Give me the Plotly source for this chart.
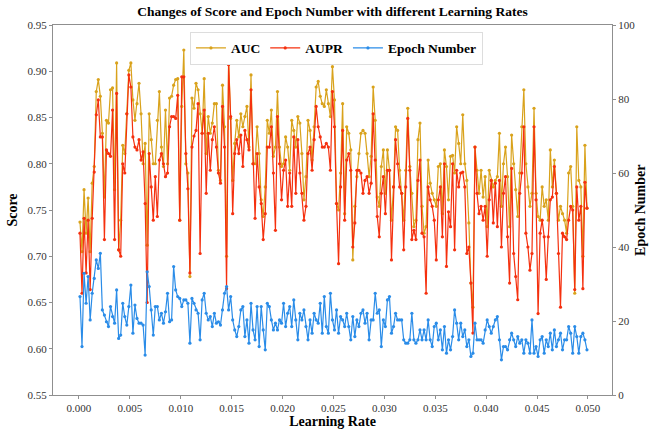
import numpy as np
import plotly.graph_objects as go

# ---- data ----
auc = [
    0.737, 0.705, 0.772, 0.725, 0.763, 0.705, 0.779, 0.797, 0.878, 0.891,
    0.873, 0.833, 0.764, 0.847, 0.844, 0.880, 0.882, 0.772, 0.909, 0.707,
    0.739, 0.820, 0.811, 0.854, 0.901, 0.909, 0.869, 0.847, 0.865, 0.887,
    0.854, 0.800, 0.822, 0.712, 0.854, 0.826, 0.800, 0.800, 0.847, 0.878,
    0.818, 0.797, 0.858, 0.800, 0.871, 0.873, 0.885, 0.891, 0.892, 0.739,
    0.862, 0.923, 0.800, 0.790, 0.678, 0.871, 0.860, 0.887, 0.880,
    # seg 2
    0.854, 0.833, 0.892, 0.811, 0.851, 0.833, 0.844, 0.865, 0.865, 0.793,
    0.782, 0.885, 0.840, 0.700, 0.914, 0.849, 0.782, 0.822, 0.847, 0.829,
    0.854, 0.840, 0.851, 0.862, 0.818, 0.896, 0.800, 0.800, 0.840, 0.811,
    0.761, 0.743, 0.775, 0.847, 0.833, 0.858, 0.808, 0.818, 0.878, 0.818,
    0.797, 0.800, 0.829, 0.818, 0.793, 0.847, 0.836, 0.818, 0.851, 0.844,
    0.811, 0.761, 0.786, 0.847, 0.836, 0.804, 0.840, 0.883, 0.889,
    # seg 3
    0.873, 0.865, 0.862, 0.880, 0.865, 0.851, 0.905, 0.869, 0.757, 0.750,
    0.790, 0.865, 0.746, 0.840, 0.833, 0.815, 0.696, 0.754, 0.786, 0.811,
    0.833, 0.836, 0.833, 0.811, 0.786, 0.808, 0.883, 0.847, 0.764, 0.754,
    0.797, 0.815, 0.768, 0.815, 0.793, 0.739, 0.775, 0.840, 0.836, 0.793,
    0.768, 0.739, 0.793, 0.860, 0.797, 0.768, 0.732, 0.739, 0.826, 0.844,
    0.754, 0.725, 0.732, 0.804, 0.779, 0.768, 0.761, 0.754, 0.797,
    # seg 4
    0.800, 0.746, 0.815, 0.797, 0.761, 0.808, 0.809, 0.790, 0.840, 0.822,
    0.800, 0.853, 0.800, 0.782, 0.736, 0.671, 0.645, 0.818, 0.793, 0.768,
    0.793, 0.764, 0.786, 0.732, 0.793, 0.782, 0.775, 0.782, 0.786, 0.833,
    0.754, 0.800, 0.818, 0.786, 0.732, 0.831, 0.800, 0.772, 0.743, 0.790,
    0.840, 0.880, 0.800, 0.775, 0.754, 0.768, 0.860, 0.768, 0.743, 0.739,
    0.775, 0.754, 0.761, 0.739, 0.815, 0.775, 0.804, 0.768, 0.739, 0.754,
    0.746, 0.739, 0.725, 0.790, 0.797, 0.754, 0.660, 0.840, 0.782, 0.775,
    0.700, 0.820, 0.752,
]

aupr = [
    0.725, 0.660, 0.741, 0.682, 0.739, 0.664, 0.741, 0.791, 0.853, 0.869,
    0.829, 0.829, 0.718, 0.815, 0.811, 0.808, 0.858, 0.718, 0.876, 0.707,
    0.700, 0.800, 0.790, 0.854, 0.896, 0.883, 0.829, 0.818, 0.815, 0.826,
    0.804, 0.813, 0.757, 0.650, 0.811, 0.775, 0.739, 0.786, 0.743, 0.804,
    0.811, 0.800, 0.786, 0.790, 0.840, 0.851, 0.851, 0.849, 0.874, 0.739,
    0.894, 0.894, 0.811, 0.773, 0.682, 0.818, 0.830, 0.836, 0.865,
    # seg 2
    0.703, 0.833, 0.858, 0.768, 0.833, 0.793, 0.826, 0.840, 0.818, 0.790,
    0.779, 0.862, 0.818, 0.665, 0.907, 0.851, 0.746, 0.811, 0.826, 0.811,
    0.831, 0.797, 0.836, 0.826, 0.815, 0.880, 0.800, 0.741, 0.811, 0.775,
    0.757, 0.718, 0.746, 0.818, 0.818, 0.840, 0.790, 0.728, 0.851, 0.800,
    0.761, 0.793, 0.804, 0.754, 0.790, 0.754, 0.829, 0.768, 0.826, 0.790,
    0.768, 0.739, 0.754, 0.811, 0.818, 0.793, 0.826, 0.862, 0.840,
    # seg 3
    0.829, 0.818, 0.818, 0.822, 0.818, 0.793, 0.878, 0.840, 0.757, 0.692,
    0.775, 0.836, 0.739, 0.804, 0.811, 0.793, 0.710, 0.736, 0.793, 0.793,
    0.790, 0.768, 0.782, 0.786, 0.768, 0.779, 0.854, 0.804, 0.743, 0.721,
    0.768, 0.786, 0.746, 0.793, 0.793, 0.696, 0.775, 0.826, 0.800, 0.775,
    0.768, 0.707, 0.775, 0.849, 0.793, 0.718, 0.728, 0.718, 0.782, 0.804,
    0.725, 0.721, 0.660, 0.775, 0.761, 0.754, 0.739, 0.696, 0.761,
    # seg 4
    0.775, 0.721, 0.800, 0.689, 0.748, 0.732, 0.800, 0.707, 0.793, 0.775,
    0.790, 0.791, 0.775, 0.703, 0.710, 0.671, 0.617, 0.818, 0.768, 0.746,
    0.754, 0.739, 0.754, 0.700, 0.761, 0.782, 0.736, 0.779, 0.732, 0.782,
    0.710, 0.768, 0.786, 0.721, 0.671, 0.795, 0.703, 0.678, 0.653, 0.768,
    0.790, 0.840, 0.725, 0.710, 0.685, 0.703, 0.840, 0.761, 0.638, 0.725,
    0.739, 0.721, 0.675, 0.721, 0.761, 0.764, 0.797, 0.768, 0.703, 0.645,
    0.725, 0.721, 0.718, 0.739, 0.754, 0.750, 0.664, 0.775, 0.739, 0.754,
    0.665, 0.780, 0.752,
]

epochs = [
    26.6, 13.1, 32.9, 24.8, 32.0, 20.3, 27.5, 31.5, 36.5, 34.2,
    38.3, 23.0, 21.6, 19.8, 18.5, 23.9, 21.2, 19.4, 28.4, 15.3,
    16.2, 24.8, 21.2, 18.9, 23.9, 29.7, 16.7, 24.3, 20.7, 19.4,
    19.4, 18.9, 10.8, 33.3, 29.3, 23.0, 16.2, 23.9, 23.9, 20.3,
    22.1, 19.4, 22.5, 27.5, 19.8, 20.3, 34.7, 28.4, 26.6, 26.1,
    23.9, 25.7, 25.7, 24.8, 14.0, 26.1, 24.8, 23.0, 22.1,
    # seg 2
    14.9, 25.7, 27.5, 22.1, 20.3, 21.2, 18.5, 22.1, 19.4, 19.8,
    18.9, 23.0, 27.5, 29.3, 23.0, 26.6, 20.3, 17.6, 15.8, 18.5,
    23.0, 23.9, 15.8, 20.3, 14.0, 24.8, 17.6, 14.9, 23.9, 13.1,
    23.9, 17.6, 12.2, 24.8, 23.9, 20.3, 17.6, 19.4, 17.6, 20.3,
    19.4, 24.8, 18.5, 22.1, 23.9, 18.5, 25.7, 20.3, 14.9, 22.1,
    20.3, 23.0, 18.5, 14.9, 20.3, 16.7, 22.1, 20.3, 19.4,
    # seg 3
    24.8, 16.7, 26.6, 18.5, 16.7, 27.5, 20.3, 17.6, 23.0, 16.7,
    21.2, 20.3, 18.5, 22.1, 18.5, 14.9, 21.2, 15.8, 20.3, 18.5,
    22.1, 23.0, 19.4, 22.1, 14.9, 20.3, 20.3, 27.5, 22.1, 23.0,
    13.1, 20.3, 18.5, 25.7, 26.6, 16.7, 18.5, 22.1, 20.3, 20.3,
    20.3, 14.9, 14.0, 14.0, 14.9, 22.1, 14.9, 14.0, 14.9, 17.6,
    14.9, 17.6, 14.9, 20.3, 14.9, 13.1, 18.5, 19.4, 14.9,
    # seg 4
    17.6, 12.2, 18.5, 11.3, 14.9, 12.2, 15.8, 23.0, 19.4, 14.9,
    19.4, 15.8, 17.6, 13.1, 14.9, 10.4, 11.3, 19.4, 14.9, 14.9,
    14.9, 14.0, 17.6, 20.3, 18.5, 16.7, 18.5, 20.3, 21.2, 14.9,
    9.5, 13.1, 13.1, 12.2, 14.9, 16.7, 14.9, 13.1, 15.8, 14.0,
    14.9, 11.3, 14.9, 14.0, 11.3, 20.3, 11.3, 13.1, 10.4, 14.9,
    15.8, 11.3, 14.9, 13.1, 16.7, 12.2, 17.6, 13.1, 14.9, 16.7,
    12.2, 14.9, 14.9, 18.5, 16.7, 11.3, 18.5, 15.8, 11.3, 15.8,
    16.7, 14.9, 12.2,
]

lr_start = 0.0001
lr_step = 0.0002
learning_rate = [round(lr_start + lr_step * i, 5) for i in range(len(auc))]

x_ticks = [0.000, 0.005, 0.010, 0.015, 0.020, 0.025, 0.030, 0.035, 0.040, 0.045, 0.050]
score_ticks = [0.55, 0.60, 0.65, 0.70, 0.75, 0.80, 0.85, 0.90, 0.95]
epoch_ticks = [0, 20, 40, 60, 80, 100]

# ---- styling ----
SERIF = "Liberation Serif, Times New Roman, serif"
C_AUC = "#D9A21B"
C_AUPR = "#F5300E"
C_EPOCH = "#2A8CE8"
FRAME = "#8f8f8f"

fig = go.Figure()
fig.add_trace(go.Scatter(
    x=learning_rate, y=auc, name="<b>AUC</b>", mode="lines+markers",
    line=dict(color=C_AUC, width=1.2), marker=dict(size=3.2, color=C_AUC),
))
fig.add_trace(go.Scatter(
    x=learning_rate, y=aupr, name="<b>AUPR</b>", mode="lines+markers",
    line=dict(color=C_AUPR, width=1.2), marker=dict(size=3.2, color=C_AUPR),
))
fig.add_trace(go.Scatter(
    x=learning_rate, y=epochs, name="<b>Epoch Number</b>", mode="lines+markers",
    line=dict(color=C_EPOCH, width=1.2), marker=dict(size=3.2, color=C_EPOCH),
    yaxis="y2",
))

tick_font = dict(family=SERIF, size=11, color="#333333")
title_font = dict(family=SERIF, size=14, color="black")

fig.update_layout(
    width=651, height=429,
    margin=dict(l=53, r=39, t=25, b=34),
    paper_bgcolor="white", plot_bgcolor="white",
    title=dict(text="<b>Changes of Score and Epoch Number with different Learning Rates</b>",
               font=dict(family=SERIF, size=13.5, color="black"),
               x=0.5, xanchor="center", y=0.973, yanchor="middle", xref="paper"),
    showlegend=True,
    legend=dict(orientation="h", x=0.245, y=0.982, xanchor="left", yanchor="top",
                bgcolor="white", bordercolor="#dddddd", borderwidth=1,
                font=dict(family=SERIF, size=13.5, color="black"),
                itemwidth=30, tracegroupgap=0),
    xaxis=dict(range=[-0.00255, 0.05236], tickvals=x_ticks, tickformat=".3f",
               showgrid=False, zeroline=False, showline=True, linecolor=FRAME,
               linewidth=1.2, mirror=True, ticks="outside", ticklen=3,
               tickcolor=FRAME, tickfont=tick_font, automargin=False,
               title=dict(text="<b>Learning Rate</b>", font=title_font, standoff=4)),
    yaxis=dict(range=[0.55, 0.95], tickvals=score_ticks, tickformat=".2f",
               showgrid=False, zeroline=False, showline=True, linecolor=FRAME,
               linewidth=1.2, ticks="outside", ticklen=3, tickcolor=FRAME,
               tickfont=tick_font, automargin=False,
               title=dict(text="<b>Score</b>", font=title_font, standoff=6)),
    yaxis2=dict(range=[0, 100], tickvals=epoch_ticks, overlaying="y", side="right",
                showgrid=False, zeroline=False, showline=True, linecolor=FRAME,
                linewidth=1.2, ticks="outside", ticklen=3, tickcolor=FRAME,
                tickfont=tick_font, automargin=False),
    annotations=[dict(text="<b>Epoch Number</b>", xref="paper", yref="paper",
                      x=1.05, y=0.5, xanchor="center", yanchor="middle",
                      textangle=-90, showarrow=False, font=title_font)],
)

fig.write_html("out.html",
               config={"displayModeBar": False},
               post_script="document.body.style.margin='0';document.body.style.padding='0';")
